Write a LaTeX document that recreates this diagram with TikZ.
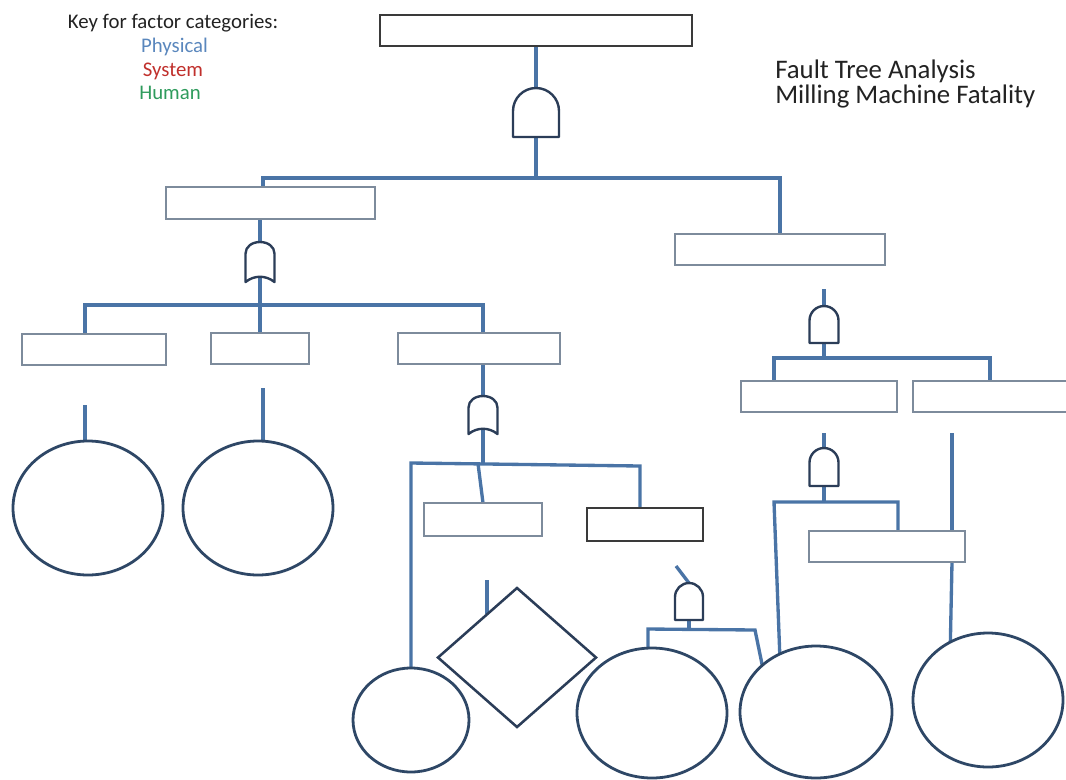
\documentclass[tikz,border=0pt]{standalone}
\usepackage{fontspec}
\setmainfont{Carlito}
\usetikzlibrary{shapes.geometric,backgrounds}

\definecolor{connblue}{HTML}{4A74A6}
\definecolor{gatenavy}{HTML}{2B3D58}
\definecolor{ringnavy}{HTML}{2E4766}
\definecolor{boxgray}{HTML}{7D8B9C}
\definecolor{boxdark}{HTML}{3A3A3A}
\definecolor{physcol}{HTML}{5A87BD}
\definecolor{syscol}{HTML}{C0302C}
\definecolor{humcol}{HTML}{2E9B5C}
\definecolor{inkcol}{HTML}{222222}

\tikzset{
  evt/.style={draw=boxgray, line width=1.1pt, fill=white, rectangle, inner sep=0pt, outer sep=0pt},
  evtdark/.style={evt, draw=boxdark},
  basic/.style={draw=ringnavy, line width=2.1pt, fill=white, ellipse, inner sep=0pt, outer sep=0pt},
  undev/.style={draw=gatenavy, line width=1.9pt, fill=white, diamond, inner sep=0pt, outer sep=0pt},
  gate/.style={draw=gatenavy, line width=1.8pt, fill=white, line join=round},
  conn/.style={draw=connblue, line width=2.5pt},
  keytxt/.style={inner sep=0pt, font=\fontsize{15.6}{18}\selectfont, text=inkcol},
  titletxt/.style={inner sep=0pt, font=\fontsize{20.1}{24}\selectfont, text=inkcol},
}

% rectangular event box given by its corners: [style]{name}{x1}{y1}{x2}{y2}
\newcommand\evbox[6][evt]{%
  \pgfmathsetmacro\bw{(#5-#3)*0.75}%
  \pgfmathsetmacro\bh{(#6-#4)*0.75}%
  \node[#1, minimum width=\bw pt, minimum height=\bh pt] (#2) at ({(#3+#5)/2},{(#4+#6)/2}) {};}

% basic event circle: {name}{cx}{cy}{rx}{ry}
\newcommand\evring[5]{%
  \pgfmathsetmacro\bw{#4*1.5}%
  \pgfmathsetmacro\bh{#5*1.5}%
  \node[basic, minimum width=\bw pt, minimum height=\bh pt] (#1) at (#2,#3) {};}

% AND gate: {name}{cx}{top}{width}{height}
\newcommand\andgate[5]{%
  \pgfmathsetmacro\gw{#4/2}%
  \draw[gate] ({#2-\gw},{#3+#5}) -- ({#2-\gw},{#3+\gw})
    .. controls ({#2-\gw},{#3+\gw-0.5523*\gw}) and ({#2-0.5523*\gw},#3) .. (#2,#3)
    .. controls ({#2+0.5523*\gw},#3) and ({#2+\gw},{#3+\gw-0.5523*\gw}) .. ({#2+\gw},{#3+\gw})
    -- ({#2+\gw},{#3+#5}) -- cycle;
  \coordinate (#1-in) at (#2,#3);
  \coordinate (#1-out) at (#2,{#3+#5});}

% OR gate: {name}{cx}{top}{width}{height}
\newcommand\orgate[5]{%
  \pgfmathsetmacro\gw{#4/2}%
  \pgfmathsetmacro\gd{0.8*\gw}%
  \draw[gate] ({#2-\gw},{#3+#5}) -- ({#2-\gw},{#3+\gd})
    .. controls ({#2-\gw},{#3+0.4*\gd}) and ({#2-0.55*\gw},#3) .. (#2,#3)
    .. controls ({#2+0.55*\gw},#3) and ({#2+\gw},{#3+0.4*\gd}) .. ({#2+\gw},{#3+\gd})
    -- ({#2+\gw},{#3+#5})
    .. controls ({#2+0.4*\gw},{#3+#5-7}) and ({#2-0.4*\gw},{#3+#5-7}) .. ({#2-\gw},{#3+#5})
    -- cycle;
  \coordinate (#1-in) at (#2,#3);
  \coordinate (#1-out) at (#2,{#3+#5-5});}

\begin{document}
\begin{tikzpicture}[x=0.75pt, y=-0.75pt]
\useasboundingbox (0,0) rectangle (1066,779);

% legend and title
\node[keytxt, anchor=base] (key) at (173,28) {Key for factor categories:};
\node[keytxt, anchor=base, text=physcol] (kphys) at (174.5,52) {Physical};
\node[keytxt, anchor=base, text=syscol] (ksys) at (173,76) {System};
\node[keytxt, anchor=base, text=humcol] (khum) at (170,99) {Human};
\node[titletxt, anchor=base west] (title1) at (775,78) {Fault Tree Analysis};
\node[titletxt, anchor=base west] (title2) at (775,103) {Milling Machine Fatality};

% event boxes
\evbox[evtdark]{top}{380}{15}{692}{46}
\evbox{L1}{166}{187}{375}{219}
\evbox{R1}{675}{234}{885}{265}
\evbox{A}{22}{334}{166}{365}
\evbox{B}{211}{333}{309}{364}
\evbox{C}{398}{333}{560}{364}
\evbox{D}{741}{381}{897}{412}
\evbox{E}{913}{381}{1074}{412}
\evbox{F}{424}{503}{542}{536}
\evbox[evtdark]{G}{587}{508}{703}{541}
\evbox{H}{809}{531}{965}{562}

% basic events
\evring{o1}{88}{508}{75}{67}
\evring{o2}{258}{508}{75}{67}
\evring{o3}{411}{720}{58}{52}
\evring{o4}{652}{713}{75}{65}
\evring{o5}{816}{712}{76}{66}
\evring{o6}{988}{700}{75}{67}

% undeveloped event
\node[undev, minimum width=118.5pt, minimum height=104.25pt] (dm) at (517,657.5) {};

% gates
\andgate{and1}{536}{88}{46}{49}
\orgate{or1}{260}{242}{29}{40}
\orgate{or2}{483}{396}{29}{38}
\andgate{and2}{824}{306}{29}{37}
\andgate{and3}{824}{448}{29}{38}
\andgate{and4}{689}{583}{28}{37}

% junction points and loose ends
\coordinate (b1l) at (263,178);  \coordinate (b1r) at (780,178);
\coordinate (b2l) at (85,305);   \coordinate (b2r) at (483,305);
\coordinate (b3l) at (411,463);  \coordinate (b3r) at (640,466);
\coordinate (b3m) at (478,463.5);
\coordinate (b4l) at (648,629);  \coordinate (b4r) at (755,630);
\coordinate (b5l) at (774,358);  \coordinate (b5r) at (990,358);
\coordinate (b6l) at (774,502);  \coordinate (b6r) at (898,502);
\coordinate (s1) at (85,405);
\coordinate (s2) at (263,388);
\coordinate (s3) at (487,580);
\coordinate (s4) at (676,566);
\coordinate (s5) at (824,289);
\coordinate (s6) at (824,433);
\coordinate (s7) at (952,433);

% connectors
\begin{scope}[on background layer]
  \draw[conn] (top.south) -- (and1-in);
  \draw[conn] (and1-out) -- (and1-out |- b1l);
  \draw[conn] (b1l |- L1.north) -- (b1l) -- (b1r) -- (b1r |- R1.north);

  \draw[conn] (L1.south -| or1-in) -- (or1-in);
  \draw[conn] (or1-out) -- (or1-out |- B.north);
  \draw[conn] (b2l |- A.north) -- (b2l) -- (b2r) -- (b2r |- C.north);
  \draw[conn] (s1) -- (s1 |- o1.north);
  \draw[conn] (s2) -- (s2 |- o2.north);

  \draw[conn] (C.south -| or2-in) -- (or2-in);
  \draw[conn] (or2-out) -- (or2-out |- b3l);
  \draw[conn] (o3.north -| b3l) -- (b3l) -- (b3r) -- (b3r |- G.north);
  \draw[conn] (b3m) -- (F.north);
  \draw[conn] (s3) -- ++(0,34);

  \draw[conn] (s4) -- (and4-in);
  \draw[conn] (and4-out) -- (and4-out |- b4l);
  \draw[conn] (b4l |- o4.north) -- (b4l) -- (b4r) -- (o5.north west);

  \draw[conn] (s5) -- (and2-in);
  \draw[conn] (and2-out) -- (and2-out |- b5l);
  \draw[conn] (b5l |- D.north) -- (b5l) -- (b5r) -- (b5r |- E.north);

  \draw[conn] (s6) -- (and3-in);
  \draw[conn] (and3-out) -- (and3-out |- b6l);
  \draw[conn] (o5.122) -- (b6l) -- (b6r) -- (b6r |- H.north);

  \draw[conn] (s7) -- (s7 |- H.north);
  \draw[conn] (H.south -| s7) -- (o6.123);
\end{scope}
\end{tikzpicture}
\end{document}
